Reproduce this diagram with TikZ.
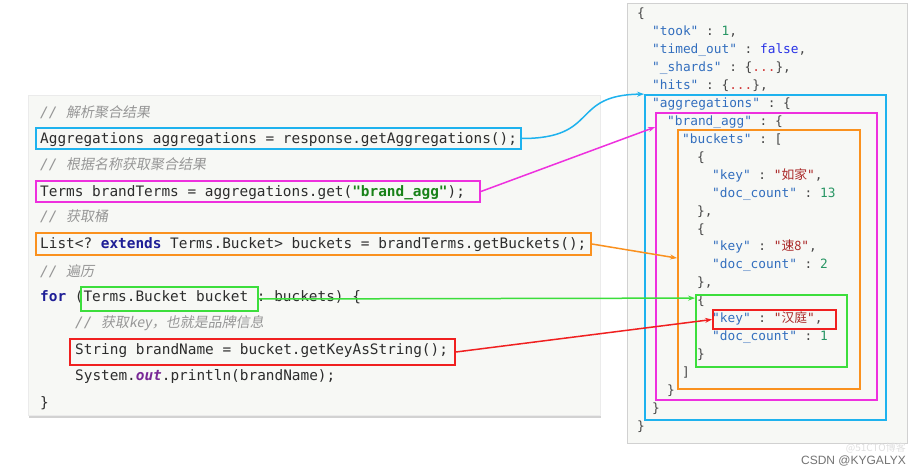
\documentclass[tikz,border=0pt]{standalone}
\usepackage{fontspec}
\setmonofont{DejaVu Sans Mono}
\newfontfamily\cjk{Noto Sans CJK SC}
\newfontfamily\cjkit[FakeSlant=0.18]{Noto Sans CJK SC}
\newfontfamily\wmfont{Liberation Sans}
\usetikzlibrary{arrows.meta,fit,shadows}
\definecolor{cblue}{RGB}{30,178,238}
\definecolor{cmag}{RGB}{238,48,222}
\definecolor{corange}{RGB}{250,145,30}
\definecolor{cgreen}{RGB}{60,222,60}
\definecolor{cred}{RGB}{240,32,32}
\definecolor{panelbg}{RGB}{247,248,245}
\definecolor{ctext}{RGB}{45,45,45}
\definecolor{ccmt}{RGB}{150,150,150}
\definecolor{ckw}{RGB}{30,30,150}
\definecolor{cstr}{RGB}{25,130,25}
\definecolor{cout}{RGB}{120,40,150}
\definecolor{jkey}{RGB}{50,110,190}
\definecolor{jnum}{RGB}{40,150,100}
\definecolor{jbool}{RGB}{40,50,230}
\definecolor{jstr}{RGB}{170,40,40}
\definecolor{jdot}{RGB}{210,60,60}
\definecolor{jpun}{RGB}{70,70,70}
\newcommand\codefont{\ttfamily\fontsize{14.4}{17}\selectfont}
\newcommand\cmtfont{\cjkit\fontsize{14}{16}\selectfont}
\newcommand\slashes{{\ttfamily\itshape\fontsize{14.4}{17}\selectfont// }}
\newcommand\jsonfont{\ttfamily\fontsize{12.8}{15}\selectfont}
\newcommand\jk[1]{\textcolor{jkey}{"#1"}}
\newcommand\js[1]{\textcolor{jstr}{"{\cjk #1}"}}
\newcommand\jn[1]{\textcolor{jnum}{#1}}
\newcommand\jdots{\{\textcolor{jdot}{...}\}}
\begin{document}
\begin{tikzpicture}[x=1pt,y=-1pt,
  codet/.style={anchor=base west,inner sep=0,font=\codefont,text=ctext},
  cmt/.style={anchor=base west,inner sep=0,font=\cmtfont,text=ccmt},
  jt/.style={anchor=base west,inner sep=0,font=\jsonfont,text=jpun},
  hl/.style={draw,line width=1.8pt,inner sep=0},
  conn/.style={line width=1.5pt,-{Stealth[length=7pt,width=5pt]}},
  panel/.style={fill=panelbg,inner sep=0}]
\useasboundingbox (0,0) rectangle (924,470);
\fill[white] (0,0) rectangle (924,470);
% panels
\node[panel,draw=black!8,drop shadow={shadow xshift=0.5pt,shadow yshift=-2.5pt,opacity=0.35},fit={(28,95) (600,415)}] (leftpanel) {};
\node[panel,draw=black!18,fit={(627,3) (907,443)}] (rightpanel) {};
% code
\node[cmt] (c1) at (40,118) {\slashes 解析聚合结果};
\node[codet] (c2) at (40,144) {Aggregations aggregations = response.getAggregations();};
\node[cmt] (c3) at (40,170) {\slashes 根据名称获取聚合结果};
\node[codet] (c4) at (40,197) {Terms brandTerms = aggregations.get({\bfseries\color{cstr}"brand\_agg"});};
\node[cmt] (c5) at (40,222) {\slashes 获取桶};
\node[codet] (c6) at (40,249) {List<? {\bfseries\color{ckw}extends} Terms.Bucket> buckets = brandTerms.getBuckets();};
\node[cmt] (c7) at (40,277) {\slashes 遍历};
\node[codet] (c8) at (40,302) {{\bfseries\color{ckw}for} (Terms.Bucket bucket : buckets) \{};
\node[cmt] (c9) at (75,328) {\slashes 获取key，也就是品牌信息};
\node[codet] (c10) at (75,355) {String brandName = bucket.getKeyAsString();};
\node[codet] (c11) at (75,381) {System.{\bfseries\itshape\color{cout}out}.println(brandName);};
\node[codet] (c12) at (40,407) {\}};
% json
\node[jt] (j0) at (637,18) {\{};
\node[jt] (j1) at (652,35.9) {\jk{took} : \jn{1},};
\node[jt] (j2) at (652,53.9) {\jk{timed\_out} : \textcolor{jbool}{false},};
\node[jt] (j3) at (652,71.8) {\jk{\_shards} : \jdots,};
\node[jt] (j4) at (652,89.7) {\jk{hits} : \jdots,};
\node[jt] (j5) at (652,107.7) {\jk{aggregations} : \{};
\node[jt] (j6) at (667,125.6) {\jk{brand\_agg} : \{};
\node[jt] (j7) at (682,143.5) {\jk{buckets} : [};
\node[jt] (j8) at (697,161.4) {\{};
\node[jt] (j9) at (712,179.4) {\jk{key} : \js{如家},};
\node[jt] (j10) at (712,197.3) {\jk{doc\_count} : \jn{13}};
\node[jt] (j11) at (697,215.2) {\},};
\node[jt] (j12) at (697,233.1) {\{};
\node[jt] (j13) at (712,251.0) {\jk{key} : \js{速8},};
\node[jt] (j14) at (712,269.0) {\jk{doc\_count} : \jn{2}};
\node[jt] (j15) at (697,286.9) {\},};
\node[jt] (j16) at (697,304.9) {\{};
\node[jt] (j17) at (712,322.8) {\jk{key} : \js{汉庭},};
\node[jt] (j18) at (712,340.7) {\jk{doc\_count} : \jn{1}};
\node[jt] (j19) at (697,358.7) {\}};
\node[jt] (j20) at (682,376.6) {]};
\node[jt] (j21) at (667,394.5) {\}};
\node[jt] (j22) at (652,412.4) {\}};
\node[jt] (j23) at (637,430.4) {\}};
% highlight boxes, code side
\node[hl,draw=cblue,fit={(36,128) (521,149)}] (bL) {};
\node[hl,draw=cmag,fit={(36,181) (480,202)}] (mL) {};
\node[hl,draw=corange,fit={(36,233) (591,255)}] (oL) {};
\node[hl,draw=cgreen,fit={(81,287) (258,311)}] (gL) {};
\node[hl,draw=cred,fit={(70,339) (455,365)}] (rL) {};
% highlight boxes, json side
\node[hl,draw=cblue,fit={(645,95) (886,420)}] (bR) {};
\node[hl,draw=cmag,fit={(656,113) (877,400)}] (mR) {};
\node[hl,draw=corange,fit={(678,130) (860,389)}] (oR) {};
\node[hl,draw=cgreen,fit={(696,295) (847,367)}] (gR) {};
\node[hl,draw=cred,fit={(713,310) (836,329)}] (rR) {};
% connectors
\draw[conn,cblue] (bL.east) .. controls (600,138.5) and (570,95) .. (bR.north west);
\draw[conn,cmag] (mL.east) -- ([yshift=-15pt]mR.north west);
\draw[conn,corange] (oL.east) -- ([yshift=-129pt]oR.north west);
\draw[conn,cgreen] (gL.east) -- ([yshift=-4pt]gR.north west);
\draw[conn,cred] (rL.east) -- (rR.west);
% watermark
\node[anchor=base east,inner sep=0,font=\cjk\fontsize{10}{12}\selectfont,text=black!12] (wm2) at (906,451) {@51CTO博客};
\node[anchor=base east,inner sep=0,font=\wmfont\fontsize{12}{14}\selectfont,text=black!55] (wm1) at (906,464) {CSDN @KYGALYX};
\end{tikzpicture}
\end{document}
